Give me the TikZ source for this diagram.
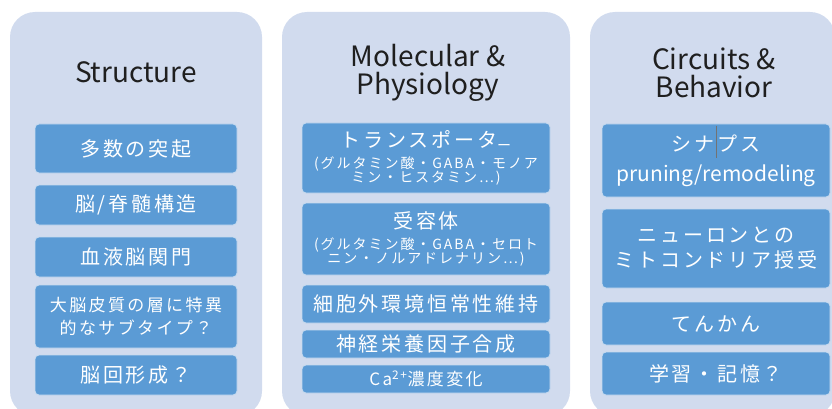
\documentclass[tikz,border=0pt]{standalone}
\usepackage{fontspec}
\setmainfont{Noto Sans CJK JP}
\newfontfamily\boxfont[LetterSpace=14]{Noto Sans CJK JP}
\usepackage{tikz}
\usetikzlibrary{calc}
\definecolor{panelblue}{HTML}{D1DBEE}
\definecolor{boxblue}{HTML}{5B9BD5}
\definecolor{boxedge}{HTML}{C8DBF0}
\newcommand{\panelcolor}{panelblue}
\newcommand{\rad}{25pt}
\newcommand{\subsize}{\fontsize{14}{14}\selectfont}
\tikzset{
  paneltitle/.style={text=black!88, align=center, font=\fontsize{28}{28}\selectfont},
  itembox/.style={fill=boxblue, draw=boxedge, line width=0.8pt, rounded corners=4pt,
    text=white, align=center, inner sep=0pt, font=\boxfont\fontsize{20}{25}\selectfont},
  scol/.style={itembox, minimum width=202pt},
  mcol/.style={itembox, minimum width=248pt},
  ccol/.style={itembox, minimum width=228pt},
}

\begin{document}
\begin{tikzpicture}[x=1pt,y=-1pt]
\useasboundingbox (0,0) rectangle (832,409);
%panels
\fill[\panelcolor, rounded corners=\rad] (10,12) rectangle (262,416);
\fill[\panelcolor, rounded corners=\rad] (282,12) rectangle (570,416);
\fill[\panelcolor, rounded corners=\rad] (590,12) rectangle (835,416);
%Structure
\node[paneltitle] (st) at (136,72) {Structure};
\node[scol, minimum height=49pt] (s1) at (136,148.5) {多数の突起};
\node[scol, minimum height=40pt] (s2) at (136,205) {脳/脊髄構造};
\node[scol, minimum height=40pt] (s3) at (136,257) {血液脳関門};
\node[scol, minimum height=63pt, font=\boxfont\fontsize{17}{23}\selectfont] (s4) at (136,316.5) {大脳皮質の層に特異\\的なサブタイプ？};
\node[scol, minimum height=40pt] (s5) at (136,375) {脳回形成？};
%Molecular & Physiology
\node[paneltitle] (mt) at (428,73) {Molecular \&\\Physiology};
\node[mcol, minimum height=70pt] (m1) at (426,158) {トランスポータ\raisebox{-3pt}{\subsize ー}\\[-4pt]\subsize (グルタミン酸・GABA・モノア\\[-11pt]\subsize ミン・ヒスタミン…)};
\node[mcol, minimum height=72pt] (m2) at (426,239) {受容体\\[-4pt]\subsize (グルタミン酸・GABA・セロト\\[-11pt]\subsize ニン・ノルアドレナリン…)};
\node[mcol, minimum height=38pt] (m3) at (426,304) {細胞外環境恒常性維持};
\node[mcol, minimum height=28pt] (m4) at (426,344) {神経栄養因子合成};
\node[mcol, minimum height=28pt, font=\boxfont\fontsize{17}{20}\selectfont] (m5) at (426,379) {Ca\textsuperscript{2+}濃度変化};
%Circuits & Behavior
\node[paneltitle] (ct) at (714,73) {Circuits \&\\Behavior};
\node[ccol, minimum height=73pt, font=\boxfont\fontsize{20}{30}\selectfont] (c1) at (716,160.5) {シナプス\\\rmfamily\fontsize{21}{30}\selectfont pruning/remodeling};
\node[ccol, minimum height=79pt] (c2) at (716,248.5) {ニューロンとの\\ミトコンドリア授受};
\node[ccol, minimum height=43pt] (c3) at (716,323.5) {てんかん};
\node[ccol, minimum height=43pt] (c4) at (716,373.5) {学習・記憶？};
%cursor
\draw[black!55, line width=0.7pt] ($(c1.north)+(0,2)$) -- ++(0,32);
\end{tikzpicture}
\end{document}
